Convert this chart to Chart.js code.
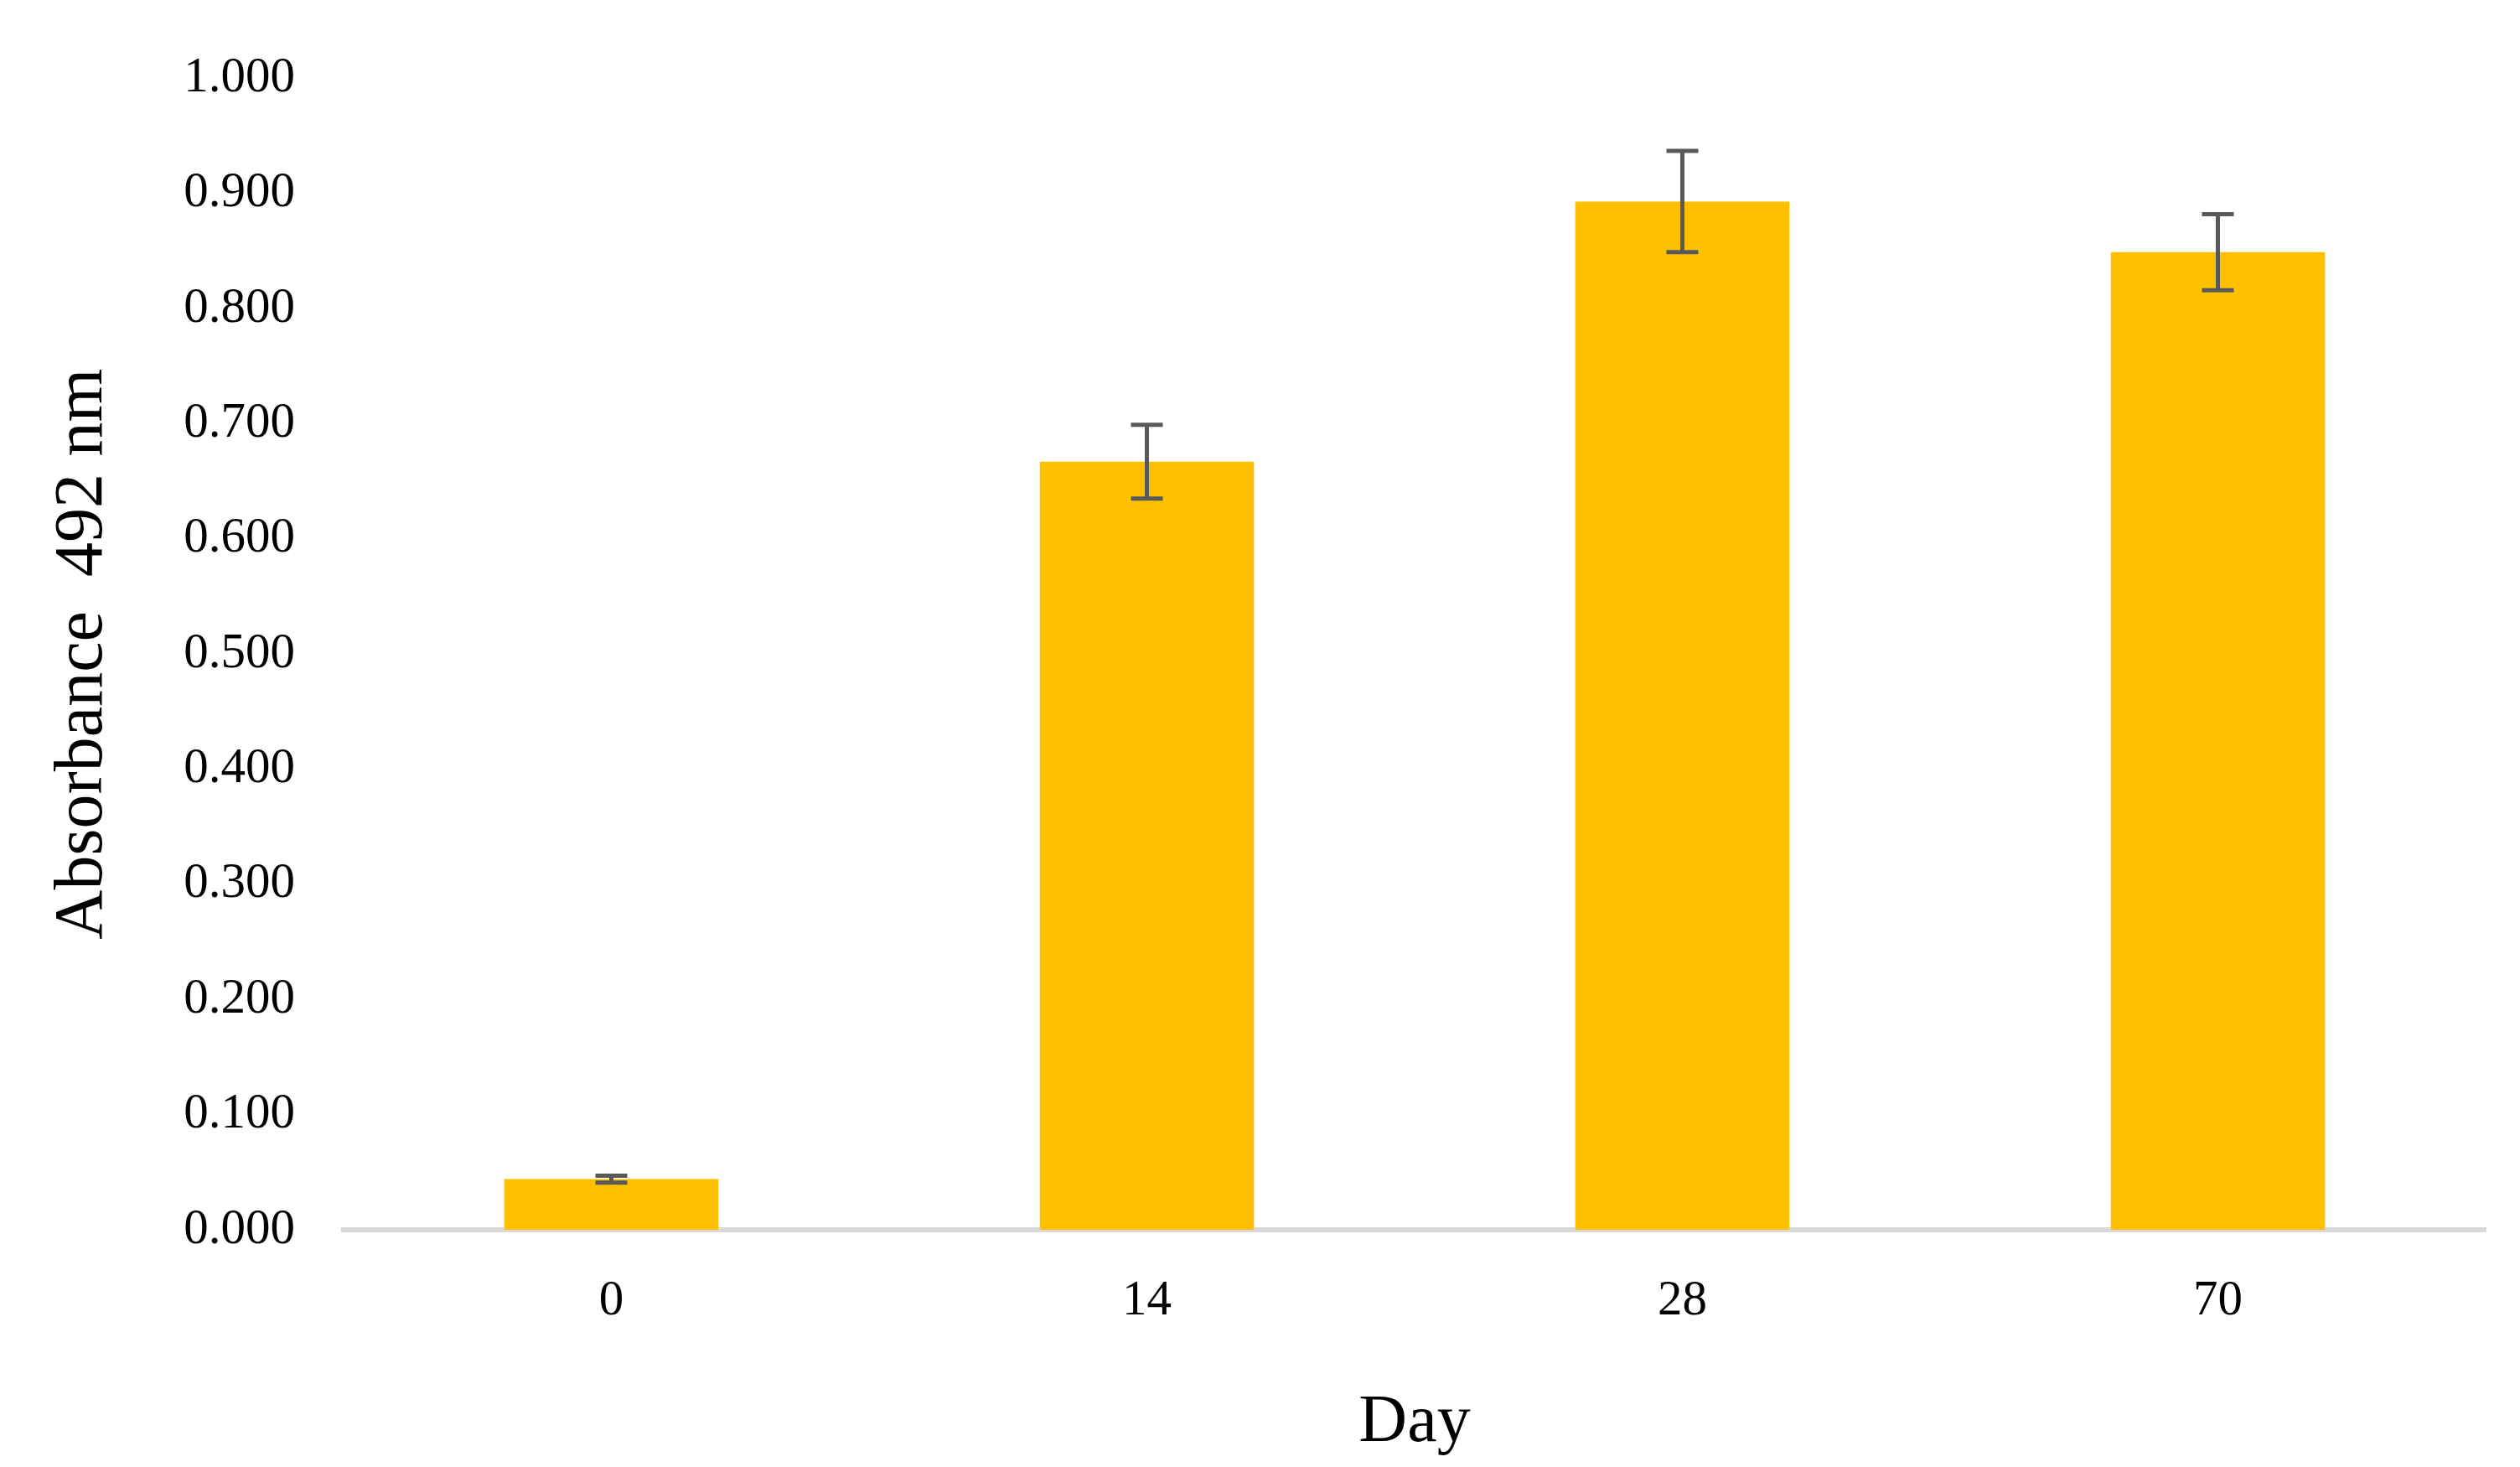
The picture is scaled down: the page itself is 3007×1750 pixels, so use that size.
<!DOCTYPE html>
<html><head><meta charset="utf-8">
<script src="https://cdn.jsdelivr.net/npm/chart.js@4"></script>
<style>html,body{margin:0;padding:0;background:#fff}#wrap{width:3007px;height:1750px}</style>
</head><body><div id="wrap"><canvas id="c"></canvas></div>
<script>
const categories = ['0', '14', '28', '70'];
const values = [0.044, 0.667, 0.893, 0.849];
const errors = [0.003, 0.032, 0.044, 0.033];
const yTicks = [0, 0.1, 0.2, 0.3, 0.4, 0.5, 0.6, 0.7, 0.8, 0.9, 1.0];
const FONT = "'Liberation Serif', 'DejaVu Serif', serif";

const errorBars = {
  id: 'errorBars',
  afterDatasetsDraw(chart) {
    const ctx = chart.ctx, y = chart.scales.y, meta = chart.getDatasetMeta(0);
    ctx.save();
    ctx.strokeStyle = '#595959';
    ctx.lineWidth = 5;
    meta.data.forEach((bar, i) => {
      const x = bar.x, hi = y.getPixelForValue(values[i] + errors[i]), lo = y.getPixelForValue(values[i] - errors[i]);
      const w = 19;
      ctx.beginPath();
      ctx.moveTo(x, hi); ctx.lineTo(x, lo);
      ctx.moveTo(x - w, hi); ctx.lineTo(x + w, hi);
      ctx.moveTo(x - w, lo); ctx.lineTo(x + w, lo);
      ctx.stroke();
    });
    ctx.restore();
  }
};

new Chart(document.getElementById('c'), {
  type: 'bar',
  data: { labels: categories, datasets: [{ data: values, backgroundColor: '#FFC000', categoryPercentage: 1, barPercentage: 0.40 }] },
  options: {
    responsive: true, maintainAspectRatio: false, animation: false,
    devicePixelRatio: 1,
    layout: { padding: { top: 48, right: 41, left: 0, bottom: 0 } },
    plugins: { legend: { display: false }, tooltip: { enabled: false } },
    scales: {
      x: {
        grid: { display: false, drawTicks: false },
        border: { display: true, color: '#d9d9d9', width: 6 },
        ticks: { font: { family: FONT, size: 59 }, color: '#000', padding: 50 },
        title: { display: true, text: 'Day', font: { family: FONT, size: 80 }, color: '#000', padding: { top: 40 } },
        afterFit(s) { s.height = 283; }
      },
      y: {
        min: 0, max: 1,
        afterBuildTicks(s) { s.ticks = yTicks.map(v => ({ value: v })); },
        grid: { display: false, drawTicks: false },
        border: { display: false },
        ticks: { font: { family: FONT, size: 59 }, color: '#000', padding: 58, callback: v => Number(v).toFixed(3) },
        title: { display: true, text: 'Absorbance  492 nm', font: { family: FONT, size: 82 }, color: '#000', padding: { top: 50, bottom: 60 } },
        afterFit(s) { s.width = 410; }
      }
    }
  },
  plugins: [errorBars]
});
</script></body></html>
